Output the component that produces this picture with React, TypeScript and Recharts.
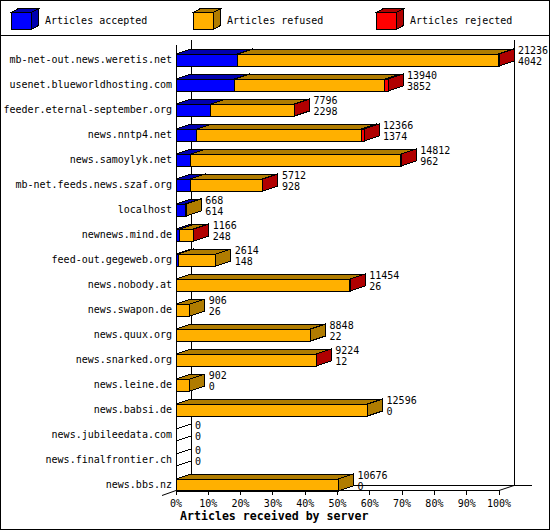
import React from 'react';
import { BarChart, Bar, XAxis, YAxis, LabelList } from 'recharts';

const servers = [
  'mb-net-out.news.weretis.net',
  'usenet.blueworldhosting.com',
  'feeder.eternal-september.org',
  'news.nntp4.net',
  'news.samoylyk.net',
  'mb-net.feeds.news.szaf.org',
  'localhost',
  'newnews.mind.de',
  'feed-out.gegeweb.org',
  'news.nobody.at',
  'news.swapon.de',
  'news.quux.org',
  'news.snarked.org',
  'news.leine.de',
  'news.babsi.de',
  'news.jubileedata.com',
  'news.finalfrontier.ch',
  'news.bbs.nz',
];
const offered = [21236, 13940, 7796, 12366, 14812, 5712, 668, 1166, 2614, 11454, 906, 8848, 9224, 902, 12596, 0, 0, 10676];
const accepted = [4042, 3852, 2298, 1374, 962, 928, 614, 248, 148, 26, 26, 22, 12, 0, 0, 0, 0, 0];
const rejected = [60, 210, 15, 200, 30, 20, 0, 10, 0, 15, 0, 0, 15, 0, 0, 0, 0, 0];

const seriesNames = ['Articles accepted', 'Articles refused', 'Articles rejected'];
const seriesKeys = ['acc', 'ref', 'rej'];
const frontColors = ['#0000ff', '#ffb000', '#ff0000'];
const shadeColors = ['#0000b0', '#b07c00', '#b00000'];
const percentTicks = [0, 10, 20, 30, 40, 50, 60, 70, 80, 90, 100];
const xTitle = 'Articles received by server';

const maxOffered = Math.max(...offered);
const data = servers.map((name, i) => ({
  name,
  total: offered[i],
  acc: (accepted[i] / maxOffered) * 100,
  ref: ((offered[i] - accepted[i] - rejected[i]) / maxOffered) * 100,
  rej: (rejected[i] / maxOffered) * 100,
}));

const W = 550;
const H = 530;
const PLOT_LEFT = 176;
const PLOT_RIGHT = 499;
const PLOT_TOP = 47;
const X_AXIS_H = 33;
const AXIS_Y = 490;
const DX = 15;
const DY = 5;
const FONT = '"DejaVu Sans Mono", "Liberation Mono", monospace';

function makeShape(si: number) {
  return (props: any) => {
    const x = Number(props.x);
    const y = Number(props.y);
    const w = Number(props.width);
    const h = Number(props.height);
    const idx = props.index;
    const total = props.payload && props.payload.total !== undefined ? props.payload.total : offered[idx];
    if (!(w > 0.001)) {
      if (si === 0 && total === 0) {
        return (
          <g shapeRendering="crispEdges">
            <polygon
              points={`${x},${y} ${x + DX},${y - DY} ${x + DX},${y + h - DY} ${x},${y + h}`}
              fill="#ffffff"
              stroke="#000"
              strokeWidth={1}
            />
          </g>
        );
      }
      return null;
    }
    const x2 = x + w;
    return (
      <g shapeRendering="crispEdges">
        <rect x={x} y={y} width={w} height={h} fill={frontColors[si]} stroke="#000" strokeWidth={1} />
        <polygon
          points={`${x},${y} ${x + DX},${y - DY} ${x2 + DX},${y - DY} ${x2},${y}`}
          fill={shadeColors[si]}
          stroke="#000"
          strokeWidth={1}
        />
        <polygon
          points={`${x2},${y} ${x2 + DX},${y - DY} ${x2 + DX},${y + h - DY} ${x2},${y + h}`}
          fill={shadeColors[si]}
          stroke="#000"
          strokeWidth={1}
        />
      </g>
    );
  };
}

const shapes = [makeShape(0), makeShape(1), makeShape(2)];

const XTick = (props: any) => {
  const { x, payload } = props;
  return (
    <g>
      <line x1={x} x2={x} y1={AXIS_Y} y2={AXIS_Y + 5} stroke="#000" shapeRendering="crispEdges" />
      <text x={x} y={507} textAnchor="middle" fontFamily={FONT} fontSize={10} fill="#000">
        {`${payload.value}%`}
      </text>
    </g>
  );
};

const YTick = (props: any) => {
  const { y, payload } = props;
  return (
    <text x={172} y={Number(y) + 3.5} textAnchor="end" fontFamily={FONT} fontSize={10} fill="#000">
      {payload.value}
    </text>
  );
};

const ValueLabel = (props: any) => {
  const { x, y, width, index } = props;
  const lx = Number(x) + Number(width) + DX + 4;
  const ly = Number(y);
  return (
    <g>
      <text x={lx} y={ly} fontFamily={FONT} fontSize={10} fill="#000">
        {offered[index]}
      </text>
      <text x={lx} y={ly + 11} fontFamily={FONT} fontSize={10} fill="#000">
        {accepted[index]}
      </text>
    </g>
  );
};

const legendCubeX = [11, 193, 376];

function Underlay() {
  const backL = PLOT_LEFT + DX;
  const backR = PLOT_RIGHT + DX;
  const backY = AXIS_Y - DY;
  return (
    <svg width={W} height={H} style={{ position: 'absolute', left: 0, top: 0 }} shapeRendering="crispEdges">
      <rect x={0} y={0} width={W} height={H} fill="#fff" />
      <line x1={backL + 0.5} y1={40} x2={backL + 0.5} y2={backY} stroke="#000" />
      <line x1={backR + 0.5} y1={40} x2={backR + 0.5} y2={backY} stroke="#000" />
      <line x1={backL} y1={backY + 0.5} x2={532} y2={backY + 0.5} stroke="#000" />
      <line x1={PLOT_LEFT + 0.5} y1={45} x2={PLOT_LEFT + 0.5} y2={AXIS_Y} stroke="#000" />
    </svg>
  );
}

function Overlay() {
  const backR = PLOT_RIGHT + DX;
  return (
    <svg width={W} height={H} style={{ position: 'absolute', left: 0, top: 0, pointerEvents: 'none' }}>
      <g shapeRendering="crispEdges">
        <rect x={0.5} y={0.5} width={W - 1} height={H - 1} fill="none" stroke="#000" />
        <line x1={0} y1={35.5} x2={W} y2={35.5} stroke="#000" />
        <line x1={PLOT_LEFT} y1={AXIS_Y + 0.5} x2={PLOT_RIGHT} y2={AXIS_Y + 0.5} stroke="#000" />
      </g>
      <line x1={PLOT_LEFT - DX + 1} y1={AXIS_Y + DY + 0.5} x2={PLOT_LEFT} y2={AXIS_Y + 0.5} stroke="#000" />
      <line x1={PLOT_RIGHT} y1={AXIS_Y + 0.5} x2={backR} y2={AXIS_Y - DY + 0.5} stroke="#000" />
      {seriesNames.map((n, i) => {
        const cx = legendCubeX[i];
        const top = 12;
        const bot = 29;
        const d = 4;
        return (
          <g key={n}>
            <g shapeRendering="crispEdges">
              <rect x={cx + 0.5} y={top + 0.5} width={20} height={bot - top} fill={frontColors[i]} stroke="#000" />
              <polygon
                points={`${cx + 0.5},${top + 0.5} ${cx + 7.5},${top - d + 0.5} ${cx + 27.5},${top - d + 0.5} ${cx + 20.5},${top + 0.5}`}
                fill={shadeColors[i]}
                stroke="#000"
              />
              <polygon
                points={`${cx + 20.5},${top + 0.5} ${cx + 27.5},${top - d + 0.5} ${cx + 27.5},${bot - d + 0.5} ${cx + 20.5},${bot + 0.5}`}
                fill={shadeColors[i]}
                stroke="#000"
              />
            </g>
            <text x={cx + 34} y={24} fontFamily={FONT} fontSize={10} fill="#000">
              {n}
            </text>
          </g>
        );
      })}
      <text x={180} y={520} fontFamily={FONT} fontSize={11.6} fontWeight="bold" fill="#000">
        {xTitle}
      </text>
    </svg>
  );
}

export default function App() {
  return (
    <div style={{ position: 'absolute', left: 0, top: 0, width: W, height: H, background: '#fff' }}>
      <Underlay />
      <div style={{ position: 'absolute', left: 0, top: 0 }}>
        <BarChart
          width={W}
          height={H}
          data={data}
          layout="vertical"
          margin={{ top: PLOT_TOP, right: W - PLOT_RIGHT, bottom: 0, left: 0 }}
          barSize={12}
        >
          <XAxis
            type="number"
            domain={[0, 100]}
            ticks={percentTicks}
            interval={0}
            axisLine={false}
            tickLine={false}
            tick={XTick}
            height={X_AXIS_H}
          />
          <YAxis
            type="category"
            dataKey="name"
            width={PLOT_LEFT}
            axisLine={false}
            tickLine={false}
            tick={YTick}
            interval={0}
          />
          {seriesKeys.map((k, i) => (
            <Bar key={k} dataKey={k} stackId="a" isAnimationActive={false} shape={shapes[i]}>
              {i === 2 ? <LabelList dataKey="rej" content={ValueLabel} /> : null}
            </Bar>
          ))}
        </BarChart>
      </div>
      <Overlay />
    </div>
  );
}
